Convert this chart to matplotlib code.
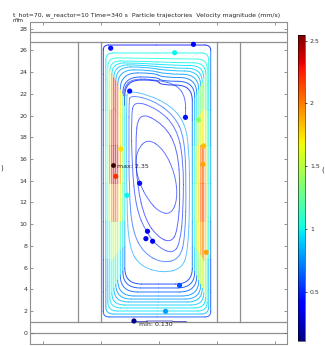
import matplotlib
matplotlib.use("Agg")
import matplotlib.pyplot as plt
from matplotlib.path import Path
from matplotlib.patches import PathPatch
from matplotlib.collections import PatchCollection
from matplotlib.colors import Normalize

title = "t_hot=70, w_reactor=10 Time=340 s  Particle trajectories  Velocity magnitude (mm/s)"

# colour range of velocity magnitude (mm/s)
v_min, v_max = 0.11, 2.545
cbar_ticks = [0.5, 1, 1.5, 2, 2.5]
y_ticks = list(range(0, 29, 2))
x_ticks = [-10, -5, 0, 5, 10]

# reactor outline (mm)
wall_x = [-7, -5, 5, 7]
plate_y = [0, 1, 26.77, 27.7]
wall_y0, wall_y1 = 1, 26.77

# outer recirculation loops, outside -> inside (mm)
loop_left = [-4.82, -4.60, -4.43, -4.26, -4.08, -3.91, -3.74, -3.57, -3.35, -3.13, -2.96]
loop_right = [4.46, 4.29, 4.16, 4.03, 3.86, 3.73, 3.60, 3.43, 3.26, 3.08, 2.87]
loop_top = [26.49, 25.76, 25.30, 25.02, 24.84, 24.66, 24.47, 24.20, 23.92, 23.55, 23.27]
loop_top_r = [26.49, 25.76, 25.2, 24.85, 24.6, 24.35, 24.1, 23.8, 23.5, 23.15, 22.8]
loop_bottom = [1.45, 1.72, 2.00, 2.28, 2.55, 2.83, 3.10, 3.38, 3.75, 4.12, 4.48]
corner_tl = [0.9, 1.2, 1.5, 1.8, 2.1, 2.4, 2.6, 2.8, 3.0, 3.0, 2.9]
corner_tr = [1.0, 1.3, 1.7, 2.0, 2.3, 2.6, 2.8, 2.9, 3.0, 2.9, 2.8]
corner_b = [1.0, 1.3, 1.6, 1.9, 2.2, 2.5, 2.7, 2.9, 3.0, 3.0, 2.9]

# speed along each outer loop (mm/s), sampled at band_y heights
band_y = [5, 8.5, 12, 15.5, 19, 22]
v_left = [
    [0.5, 0.55, 0.6, 0.6, 0.55, 0.5],
    [0.8, 0.9, 1.0, 1.05, 1.0, 0.95],
    [0.9, 1.1, 1.35, 1.55, 1.5, 1.35],
    [1.0, 1.25, 1.7, 2.0, 1.9, 1.7],
    [1.1, 1.45, 1.95, 2.3, 2.2, 2.0],
    [1.15, 1.55, 2.1, 2.4, 2.3, 2.1],
    [1.1, 1.5, 2.05, 2.35, 2.25, 2.05],
    [1.05, 1.4, 1.9, 2.2, 2.05, 1.85],
    [0.95, 1.2, 1.6, 1.85, 1.7, 1.5],
    [0.8, 1.0, 1.25, 1.4, 1.3, 1.15],
    [0.7, 0.85, 1.0, 1.05, 1.0, 0.9],
]
v_right = [
    [0.6, 0.7, 0.8, 0.8, 0.75, 0.7],
    [0.9, 1.05, 1.1, 1.1, 1.05, 1.0],
    [1.15, 1.4, 1.5, 1.45, 1.3, 1.1],
    [1.35, 1.75, 1.85, 1.8, 1.5, 1.25],
    [1.5, 1.95, 2.1, 2.05, 1.65, 1.35],
    [1.55, 2.0, 2.15, 2.1, 1.7, 1.4],
    [1.5, 1.9, 2.05, 2.0, 1.6, 1.3],
    [1.35, 1.7, 1.8, 1.75, 1.45, 1.15],
    [1.15, 1.4, 1.45, 1.4, 1.2, 0.95],
    [0.9, 1.05, 1.1, 1.05, 0.9, 0.8],
    [0.7, 0.8, 0.85, 0.8, 0.7, 0.6],
]
v_top = [0.45, 1.0, 1.05, 1.0, 0.95, 0.9, 0.85, 0.8, 0.7, 0.6, 0.5]
v_bottom = [0.6, 0.85, 0.95, 0.95, 0.9, 0.85, 0.8, 0.75, 0.65, 0.6, 0.55]

# inner tilted loops (mm) and their speed
inner_0 = [(-2.75, 22.3), (-0.9, 21.9), (1.0, 20.9), (2.2, 19.4), (2.6, 17.0), (2.65, 12.0),
           (2.5, 7.6), (2.0, 5.9), (0.3, 5.5), (-1.6, 6.1), (-2.6, 7.8), (-2.8, 12.0),
           (-2.8, 18.5), (-2.8, 21.4)]
inner_1 = [(-2.5, 21.9), (-0.5, 21.4), (1.3, 20.0), (2.2, 18.0), (2.35, 13.5), (2.25, 8.8),
           (1.8, 6.8), (0.3, 6.4), (-1.3, 7.3), (-2.3, 9.3), (-2.6, 13.0), (-2.6, 18.5),
           (-2.6, 21.2)]
inner_2 = [(-2.2, 21.4), (-0.1, 20.6), (1.5, 18.9), (2.1, 16.0), (2.1, 11.3), (1.8, 8.2),
           (1.2, 7.3), (0.0, 7.8), (-1.1, 9.2), (-2.0, 11.5), (-2.35, 15.5), (-2.4, 19.8)]
inner_3 = [(-1.8, 20.4), (0.4, 19.2), (1.6, 17.0), (1.85, 13.0), (1.6, 9.3), (1.0, 8.3),
           (-0.1, 8.8), (-1.2, 10.4), (-1.9, 13.5), (-2.05, 17.3)]
inner_4 = [(-1.9, 16.8), (-1.0, 17.9), (0.4, 16.9), (1.4, 14.6), (1.6, 12.3), (1.05, 10.9),
           (0.0, 11.1), (-1.0, 12.3), (-1.7, 13.8), (-2.05, 15.3)]
inner_loops = [inner_0, inner_1, inner_2, inner_3, inner_4]
inner_speed = [0.8, 0.6, 0.5, 0.45, 0.5]

# open trajectories
track_dot5 = [(-3.05, 21.0), (-3.05, 22.6), (-2.3, 23.4), (-0.2, 23.3), (1.6, 22.8), (2.3, 21.6), (2.28, 19.83)]
track_min = [(-2.17, 1.08), (0.0, 1.08), (2.3, 1.08)]
open_tracks = [track_dot5, track_min]
open_speed = [0.5, 0.2]

# particle positions (mm) and speed
dot_x = [-4.18, 2.97, 1.34, -2.54, 2.28, 3.4, -3.3, 3.84, 3.78, -3.75, -1.68, -2.78, -1.0, -1.14, -0.56, 4.07, 1.77, 0.56, -2.17]
dot_y = [26.2, 26.55, 25.78, 22.25, 19.83, 19.6, 16.9, 17.2, 15.5, 14.4, 13.76, 12.65, 9.34, 8.66, 8.42, 7.4, 4.36, 1.97, 1.08]
dot_v = [0.45, 0.4, 1.0, 0.45, 0.45, 1.35, 1.75, 1.85, 1.9, 2.2, 0.45, 1.0, 0.4, 0.35, 0.35, 1.9, 0.6, 0.8, 0.13]
max_xy = (-3.98, 15.47)
max_label = "max: 2.35"
min_label = "min: 0.130"


def pieces(pts, closed):
    n = len(pts)
    mids = [((pts[i][0] + pts[(i + 1) % n][0]) / 2, (pts[i][1] + pts[(i + 1) % n][1]) / 2) for i in range(n)]
    curve = [Path.MOVETO, Path.CURVE3, Path.CURVE3]
    out = []
    if closed:
        for i in range(n):
            out.append(Path([mids[i - 1], pts[i], mids[i]], curve))
    else:
        out.append(Path([pts[0], mids[0]], [Path.MOVETO, Path.LINETO]))
        for i in range(1, n - 1):
            out.append(Path([mids[i - 1], pts[i], mids[i]], curve))
        out.append(Path([mids[n - 2], pts[n - 1]], [Path.MOVETO, Path.LINETO]))
    return out


cmap = plt.get_cmap("jet")
norm = Normalize(v_min, v_max)

fig = plt.figure(figsize=(3.25, 3.46), dpi=100)
ax = fig.add_axes([30 / 325, 2 / 346, 257 / 325, 322 / 346])

# geometry
gray = "#8f8f8f"
for yy in plate_y:
    ax.axhline(yy, color=gray, lw=0.9, zorder=1)
for xx in wall_x:
    ax.plot([xx, xx], [wall_y0, wall_y1], color=gray, lw=0.9, zorder=1)

outer_patches = []
outer_speeds = []
for k in range(len(loop_left)):
    L, R, B = loop_left[k], loop_right[k], loop_bottom[k]
    T, Tr = loop_top[k], loop_top_r[k]
    ctl, ctr, cb = corner_tl[k], corner_tr[k], corner_b[k]
    # left side going up
    pts = [(L, B + cb)]
    vs = [v_left[k][0]]
    for j, yb in enumerate(band_y):
        if B + cb + 0.5 < yb < T - ctl - 0.5:
            pts.append((L, yb))
            vs.append(v_left[k][j])
    pts += [(L, T - ctl), (L, T), (L + ctl, T), (R - ctr, Tr), (R, Tr), (R, Tr - ctr)]
    vs += [vs[-1], v_top[k], v_top[k], v_top[k], v_top[k], v_right[k][-1]]
    # right side going down
    for j in range(len(band_y) - 1, -1, -1):
        if B + cb + 0.5 < band_y[j] < Tr - ctr - 0.5:
            pts.append((R, band_y[j]))
            vs.append(v_right[k][j])
    pts += [(R, B + cb), (R, B), (R - cb, B), (L + cb, B), (L, B)]
    vs += [v_right[k][0], v_bottom[k], v_bottom[k], v_bottom[k], v_bottom[k]]
    outer_patches += [PathPatch(p) for p in pieces(pts, True)]
    outer_speeds += vs

inner_patches = []
inner_speeds = []
for loop, v in zip(inner_loops, inner_speed):
    ps = pieces(loop, True)
    inner_patches += [PathPatch(p) for p in ps]
    inner_speeds += [v] * len(ps)

for tr, v in zip(open_tracks, open_speed):
    ps = pieces(tr, False)
    inner_patches += [PathPatch(p) for p in ps]
    inner_speeds += [v] * len(ps)

pc_out = PatchCollection(outer_patches, facecolors="none", edgecolors=cmap(norm(outer_speeds)),
                         linewidths=0.7, alpha=0.85, capstyle="round", joinstyle="round", zorder=2)
pc_in = PatchCollection(inner_patches, facecolors="none", edgecolors=cmap(norm(inner_speeds)),
                        linewidths=0.7, alpha=0.62, capstyle="round", joinstyle="round", zorder=2)
ax.add_collection(pc_out)
ax.add_collection(pc_in)

sc = ax.scatter(dot_x, dot_y, c=dot_v, cmap=cmap, norm=norm, s=14, linewidths=0, zorder=5)
ax.scatter([max_xy[0]], [max_xy[1]], color="#3a0000", s=12, linewidths=0, zorder=6)
ax.text(max_xy[0] + 0.35, max_xy[1] - 0.2, max_label, fontsize=4.5, color="#222222", va="center", zorder=7)
ax.text(dot_x[-1] + 0.45, dot_y[-1] - 0.3, min_label, fontsize=4.5, color="#222222", va="center", zorder=7)

ax.set_xlim(-11.15, 11.05)
ax.set_ylim(-1.04, 28.61)
ax.set_xticks(x_ticks)
ax.set_xticklabels([])
ax.set_yticks(y_ticks)
ax.tick_params(direction="in", length=2, width=0.5, color="#666666", labelsize=4.5,
               labelcolor="#333333", pad=2, top=True, right=True)
for s in ax.spines.values():
    s.set_color(gray)
    s.set_linewidth(0.8)

fig.text(13 / 325, 1 - 15 / 346, title, fontsize=4.45, color="#222222", va="center", ha="left")
fig.text(12 / 325, 1 - 20 / 346, "mm", fontsize=4, color="#222222", va="center", ha="left")
fig.text(0.0, 0.515, ")", fontsize=5, color="#333333", va="center", ha="left")
fig.text(0.996, 0.51, "(", fontsize=5, color="#333333", va="center", ha="right")

cax = fig.add_axes([297.7 / 325, 5 / 346, 7.3 / 325, 306 / 346])
cb = fig.colorbar(sc, cax=cax, ticks=cbar_ticks)
cb.ax.set_yticklabels(["0.5", "1", "1.5", "2", "2.5"])
cb.ax.tick_params(labelsize=4.5, length=1.5, width=0.5, pad=2, labelcolor="#333333")
cb.outline.set_linewidth(0.4)

fig.savefig("out.png", dpi=100)
